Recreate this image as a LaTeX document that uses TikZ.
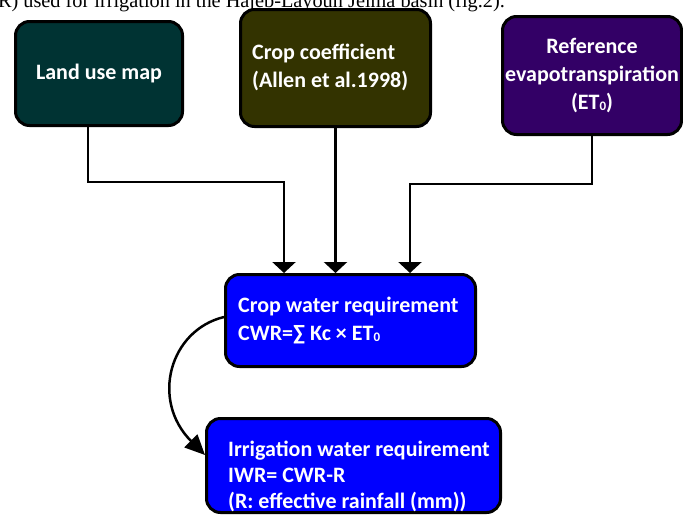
\documentclass[tikz,border=0pt]{standalone}
\usepackage{fontspec}
\setmainfont{Carlito}
\newfontfamily\bodyserif{Liberation Serif}
\usetikzlibrary{arrows.meta}

\definecolor{landfill}{HTML}{003333}
\definecolor{cropfill}{HTML}{333300}
\definecolor{etfill}{HTML}{330066}
\definecolor{reqfill}{HTML}{0000FF}

\newcommand{\subzero}{\raisebox{-1pt}{\fontsize{13}{13}\selectfont 0}}

\tikzset{
  box/.style={draw=black, line width=3pt, rounded corners=14pt, inner sep=0pt,
    text=white, font=\bfseries\fontsize{22}{28}\selectfont, align=center},
  boxtext/.style={text=white, font=\bfseries\fontsize{22}{28}\selectfont,
    align=left, inner sep=0pt, anchor=west},
  conn/.style={draw=black, line width=2.5pt, -{Triangle[width=23pt,length=11pt]}},
  curvedconn/.style={draw=black, line width=2.5pt, -{Triangle[width=18pt,length=20pt]}}
}

\begin{document}
\begin{tikzpicture}[x=1pt,y=-1pt]
  \useasboundingbox (0,0) rectangle (683,517);
  \clip (0,0) rectangle (683,517);

  % running text of the page above the chart
  \node[anchor=base east, inner sep=0pt, font=\bodyserif\fontsize{20.3}{24}\selectfont]
    (caption) at (505,7) {R) used for irrigation in the Hajeb-Layoun Jelma basin (fig.2).};

  % input boxes
  \node[box, fill=landfill, minimum width=167pt, minimum height=104pt]
    (land) at (99,73.5) {Land use map};
  \node[box, fill=cropfill, minimum width=190pt, minimum height=117pt]
    (crop) at (335.5,68) {};
  \node[boxtext] (croptext) at (252,67.5) {Crop coefficient\\(Allen et al.1998)};
  \node[box, fill=etfill, minimum width=179pt, minimum height=118pt]
    (et) at (592,75.5) {Reference\\evapotranspiration\\(ET\subzero)};

  % crop water requirement
  \node[box, fill=reqfill, minimum width=250pt, minimum height=92pt]
    (cwr) at (350.5,320.5) {};
  \node[boxtext] (cwrtext) at (238,321) {Crop water requirement\\CWR=∑ Kc × ET\subzero};

  % irrigation water requirement
  \node[box, fill=reqfill, minimum width=294pt, minimum height=94pt]
    (iwr) at (353.5,465.5) {};
  \node[boxtext, font=\bfseries\fontsize{22}{26}\selectfont] (iwrtext) at (228,476)
    {Irrigation water requirement\\IWR= CWR-R\\(R: effective rainfall (mm))};

  % connectors
  \draw[conn] ([xshift=-11pt]land.south) -- ++(0,55) -| ([xshift=-66.5pt]cwr.north);
  \draw[conn] (crop.south) -- (crop.south |- cwr.north);
  \draw[conn] (et.south) -- ++(0,48) -| ([xshift=59.5pt]cwr.north);
  \draw[curvedconn] ([yshift=3.5pt]cwr.west) .. controls (170,330) and (150,400) .. ([yshift=10.5pt]iwr.west);
\end{tikzpicture}
\end{document}
